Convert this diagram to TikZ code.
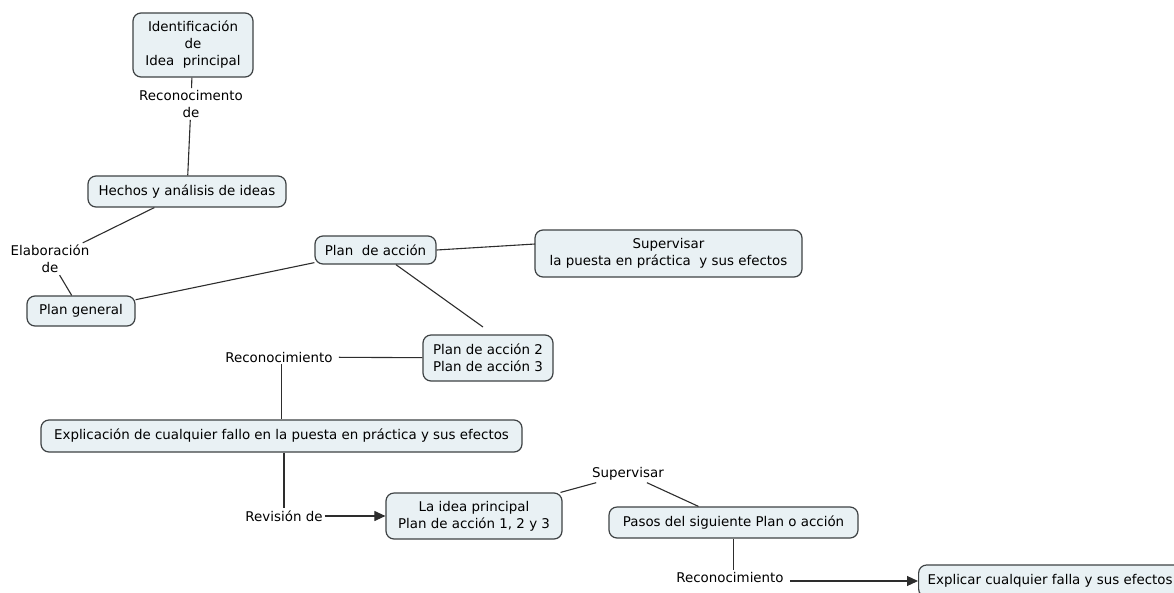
\documentclass[tikz,border=0pt]{standalone}
\usepackage{fontspec}
\setmainfont{DejaVu Sans}
\usepackage{tikz}
\usetikzlibrary{positioning,arrows.meta}
\definecolor{conceptbg}{RGB}{233,241,244}
\definecolor{conceptdraw}{RGB}{62,66,68}
\definecolor{linkdraw}{RGB}{45,45,45}

\begin{document}
\begin{tikzpicture}[x=1pt,y=-1pt,
    every node/.style={font=\fontsize{13.4}{17}\selectfont},
    concept/.style={draw=conceptdraw,fill=conceptbg,line width=1.2pt,rounded corners=8pt,align=center,inner xsep=9pt,inner ysep=6pt},
    phrase/.style={align=center,inner sep=2pt},
    link/.style={draw=linkdraw,line width=1.1pt},
    linkarrow/.style={link,-{Triangle[length=11pt,width=10pt]}}]
    \useasboundingbox (0,0) rectangle (1174,592);
    \clip (0,0) rectangle (1174,592);
    \node[concept,minimum width=120pt,minimum height=64pt] (idea) at (193,45) {Identificación\\de\\Idea~ principal};
    \node[phrase] (recon1) at (191,104) {Reconocimento\\de};
    \node[concept,minimum width=198pt,minimum height=31pt] (hechos) at (187,191.5) {Hechos y análisis de ideas};
    \node[phrase] (elab) at (50,259) {Elaboración\\de};
    \node[concept,minimum width=108pt,minimum height=30pt] (general) at (81,311) {Plan general};
    \node[concept,minimum width=121pt,minimum height=28pt] (accion) at (375.5,250) {Plan~ de acción};
    \node[concept,minimum width=267pt,minimum height=47pt] (super1) at (668.5,253.5) {Supervisar\\la puesta en práctica~ y sus efectos};
    \coordinate (super1in) at (535,244);
    \node[concept,minimum width=130pt,minimum height=46pt] (planes) at (488,358) {Plan de acción 2\\Plan de acción 3};
    \coordinate (planestop) at (483,327);
    \node[phrase,inner xsep=6pt] (recon2) at (279,357) {Reconocimiento};
    \node[concept,minimum width=481pt,minimum height=32pt] (fallo) at (281.5,436) {Explicación de cualquier fallo en la puesta en práctica y sus efectos};
    \node[phrase] (revision) at (284,516) {Revisión de};
    \node[concept,minimum width=176pt,minimum height=46pt] (principal) at (474,516) {La idea principal\\Plan de acción 1, 2 y 3};
    \node[phrase] (super2) at (628,474) {Supervisar};
    \node[concept,minimum width=249pt,minimum height=31pt] (pasos) at (733.5,522.5) {Pasos del siguiente Plan o acción};
    \node[phrase,inner xsep=6pt] (recon3) at (730,577) {Reconocimiento};
    \node[concept,minimum height=32pt,anchor=west] (falla) at (918,581) {Explicar cualquier falla y sus efectos};

    \draw[link] (idea) -- (recon1);
    \draw[link] (recon1) -- (hechos);
    \draw[link] (hechos) -- (elab);
    \draw[link] (elab) -- (general);
    \draw[link] (general) -- (accion);
    \draw[link] (accion.east) -- (super1in);
    \draw[link] (accion) -- (planestop);
    \draw[link] (recon2) -- (planes);
    \draw[link] (recon2.south -| fallo) -- (fallo);
    \draw[link] (fallo.south -| revision) -- (revision);
    \draw[linkarrow] (revision) -- (principal);
    \draw[link] (principal) -- (super2);
    \draw[link] (super2) -- (pasos);
    \draw[link] (pasos) -- (pasos |- recon3.north);
    \draw[linkarrow] (recon3.east |- falla.west) -- (falla.west);
  \end{tikzpicture}
\end{document}
